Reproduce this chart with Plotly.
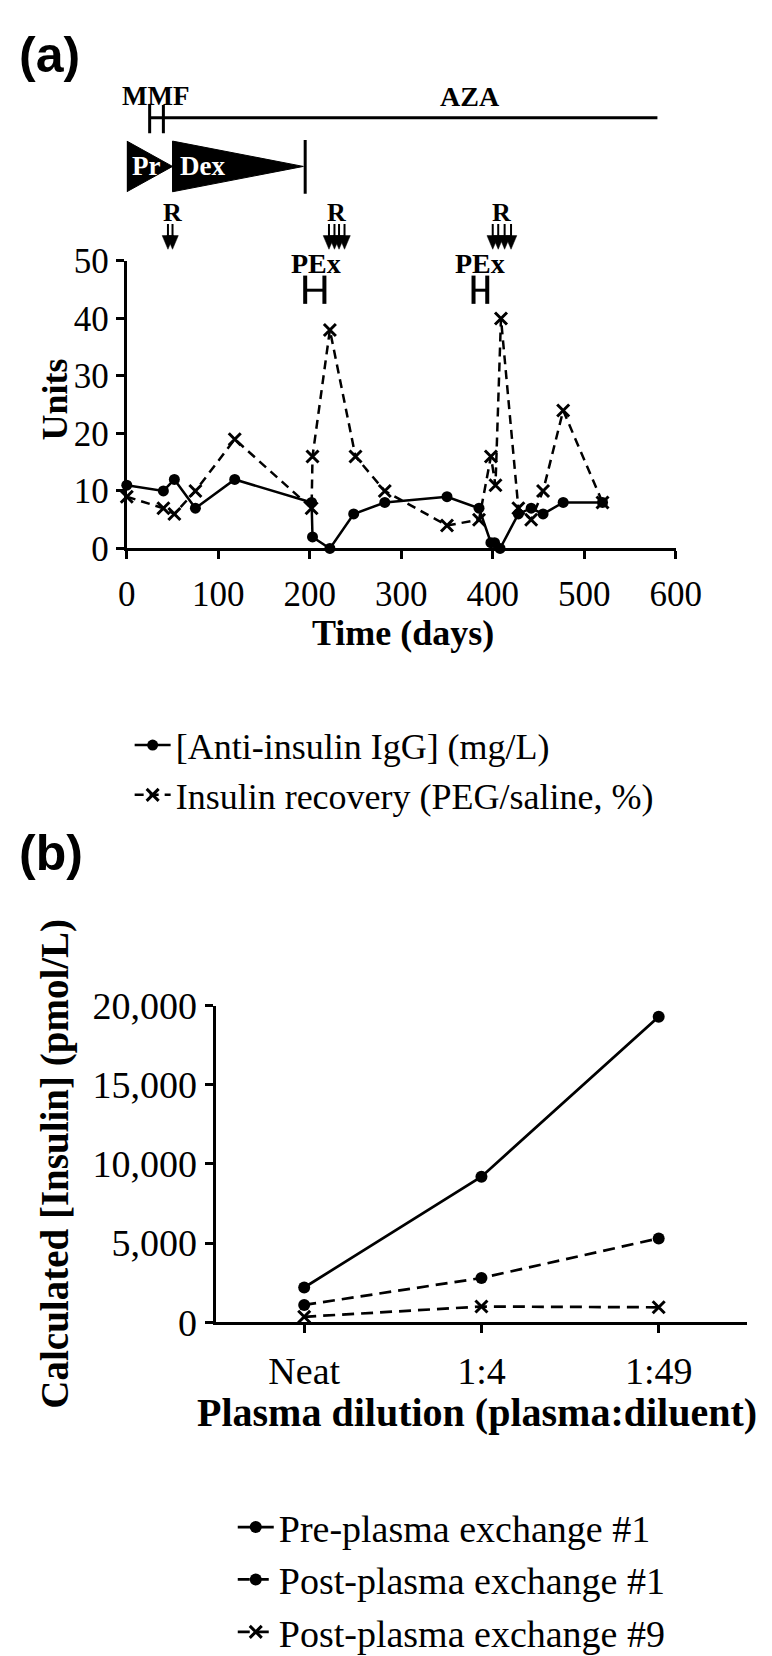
import plotly.graph_objects as go

W, H = 772, 1656

# ---------------- Data: panel (a) ----------------
days_igg = [0, 40, 52, 75, 118, 202, 203, 222, 248, 282, 350, 385, 398, 402, 408, 428, 442, 455, 477, 520]
igg = [11, 10, 12, 7, 12, 8, 2, 0, 6, 8, 9, 7, 1, 1, 0, 6, 7, 6, 8, 8]
days_rec = [0, 40, 52, 75, 118, 202, 203, 222, 250, 282, 350, 385, 398, 403, 409, 428, 442, 455, 477, 520]
recovery = [9, 7, 6, 10, 19, 7, 16, 38, 16, 10, 4, 5, 16, 11, 40, 7, 5, 10, 24, 8]
x_ticks_a = [0, 100, 200, 300, 400, 500, 600]
y_ticks_a = [0, 10, 20, 30, 40, 50]

# treatment timeline (days)
mmf_days = [25, 40]
aza_days = [40, 580]
pred_days = [0, 50]
dex_days = [50, 193]
steroid_stop_day = 195
ritux_groups = [[45, 50], [221, 227, 232, 238], [400, 406, 413, 420]]
ritux_label_days = [50, 229, 410]
pex_groups = [[195, 216], [379, 394]]
pex_label_days = [207, 386]

# ---------------- Data: panel (b) ----------------
dilutions = ["Neat", "1:4", "1:49"]
pre_pex1 = [2200, 9200, 19300]
post_pex1 = [1100, 2800, 5300]
post_pex9 = [350, 1000, 950]
y_ticks_b = [0, 5000, 10000, 15000, 20000]

SERIF = "Liberation Serif"
SANS = "Liberation Sans"


def py(p):
    return 1 - p / H


def pxp(p):
    return p / W


fig = go.Figure()

# panel (a) traces
fig.add_trace(go.Scatter(
    x=days_igg, y=igg, mode="lines+markers", name="[Anti-insulin IgG] (mg/L)",
    line=dict(color="black", width=2.5), marker=dict(symbol="circle", size=11, color="black"),
    xaxis="x", yaxis="y", cliponaxis=False, legend="legend"))
fig.add_trace(go.Scatter(
    x=days_rec, y=recovery, mode="lines+markers", name="Insulin recovery (PEG/saline, %)",
    line=dict(color="black", width=2.5, dash="9px,6px"),
    marker=dict(symbol="x-thin-open", size=12, color="black", line=dict(width=3, color="black")),
    xaxis="x", yaxis="y", cliponaxis=False, legend="legend"))

# panel (b) traces
fig.add_trace(go.Scatter(
    x=dilutions, y=pre_pex1, mode="lines+markers", name="Pre-plasma exchange #1",
    line=dict(color="black", width=2.7), marker=dict(symbol="circle", size=12, color="black"),
    xaxis="x2", yaxis="y2", cliponaxis=False, legend="legend2"))
fig.add_trace(go.Scatter(
    x=dilutions, y=post_pex1, mode="lines+markers", name="Post-plasma exchange #1",
    line=dict(color="black", width=2.7, dash="12px,7px"), marker=dict(symbol="circle", size=12, color="black"),
    xaxis="x2", yaxis="y2", cliponaxis=False, legend="legend2"))
fig.add_trace(go.Scatter(
    x=dilutions, y=post_pex9, mode="lines+markers", name="Post-plasma exchange #9",
    line=dict(color="black", width=2.7, dash="12px,7px"),
    marker=dict(symbol="x-thin-open", size=12, color="black", line=dict(width=3, color="black")),
    xaxis="x2", yaxis="y2", cliponaxis=False, legend="legend2"))

axis_common = dict(showline=True, linecolor="black", linewidth=3, ticks="outside", ticklen=8,
                   tickwidth=3, tickcolor="black", showgrid=False, zeroline=False,
                   tickfont=dict(family=SERIF, size=35, color="black"))
font_b = dict(family=SERIF, size=38, color="black")

fig.update_layout(
    width=W, height=H, margin=dict(l=0, r=0, t=0, b=0),
    paper_bgcolor="white", plot_bgcolor="white",
    xaxis=dict(domain=[pxp(115), pxp(690)], range=[0, 600], tickvals=x_ticks_a, anchor="y",
               ticklabelstandoff=5, **axis_common),
    yaxis=dict(domain=[py(533), py(238)], range=[0, 50], tickvals=y_ticks_a, anchor="x", **axis_common),
    xaxis2=dict(domain=[pxp(208), pxp(765)], type="category", range=[-0.5, 2.5], anchor="y2",
                ticklabelstandoff=5, **{**axis_common, "tickfont": font_b}),
    yaxis2=dict(domain=[py(1327), py(1002)], range=[0, 20000], tickvals=y_ticks_b, tickformat=",",
                anchor="x2", **{**axis_common, "tickfont": font_b}),
    legend=dict(x=pxp(118), y=py(704), xanchor="left", yanchor="top",
                font=dict(family=SERIF, size=36, color="black"), bgcolor="rgba(0,0,0,0)",
                itemwidth=36, tracegroupgap=0),
    legend2=dict(x=pxp(226), y=py(1505), xanchor="left", yanchor="top",
                 font=dict(family=SERIF, size=38, color="black"), bgcolor="rgba(0,0,0,0)",
                 itemwidth=36, tracegroupgap=0),
)

shapes = []
ann = []


def text(t, x, y, size, xref="x", color="black", family=SERIF, angle=0, xanchor="center"):
    ann.append(dict(text=t, xref=xref, yref="paper", x=x, y=y, showarrow=False,
                    xanchor=xanchor, yanchor="middle", textangle=angle,
                    font=dict(family=family, size=size, color=color)))


def vline(d, p0, p1, w=3):
    shapes.append(dict(type="line", xref="x", yref="paper", x0=d, x1=d, y0=py(p0), y1=py(p1),
                       line=dict(color="black", width=w)))


def hline(d0, d1, p, w=3):
    shapes.append(dict(type="line", xref="x", yref="paper", x0=d0, x1=d1, y0=py(p), y1=py(p),
                       line=dict(color="black", width=w)))


# ---- timeline above panel (a) ----
hline(aza_days[0], aza_days[1], 91)
for d in mmf_days:
    vline(d, 78, 107)
hline(mmf_days[0], mmf_days[1], 91)
text("<b>MMF</b>", (mmf_days[0] + mmf_days[1]) / 2 - 1, py(69), 27)
text("<b>AZA</b>", 375, py(69), 28)

# steroid wedges
for (d0, d1) in (pred_days, dex_days):
    path = "M {a},{t} L {a},{b} L {c},{m} Z".format(a=d0, c=d1, t=py(115), b=py(167), m=py(141))
    shapes.append(dict(type="path", xref="x", yref="paper", path=path,
                       fillcolor="black", line=dict(color="black", width=1)))
vline(steroid_stop_day, 114, 169)
text("<b>Pr</b>", (pred_days[0] + pred_days[1]) / 2 - 4, py(141), 27, color="white")
text("<b>Dex</b>", dex_days[0] + 33, py(141), 27, color="white")

# rituximab arrows
half = 6.3
for grp, lab in zip(ritux_groups, ritux_label_days):
    text("<b>R</b>", lab, py(188), 26)
    for d in grp:
        vline(d, 200, 214, w=2)
        path = "M {l},{t} L {r},{t} L {d},{b} Z".format(l=d - half, r=d + half, d=d, t=py(212), b=py(226))
        shapes.append(dict(type="path", xref="x", yref="paper", path=path,
                           fillcolor="black", line=dict(color="black", width=0.5)))

# plasma exchange brackets
for (d0, d1), lab in zip(pex_groups, pex_label_days):
    text("<b>PEx</b>", lab, py(241), 28)
    for d in (d0, d1):
        vline(d, 253, 282, w=4)
    hline(d0, d1, 268)

# panel labels and axis titles
text("<b>(a)</b>", 0, py(27), 50, xref="paper", family=SANS, xanchor="left")
text("<b>(b)</b>", 0, py(845), 50, xref="paper", family=SANS, xanchor="left")
text("<b>Units</b>", pxp(40), py(380), 36, xref="paper", angle=-90)
text("<b>Time (days)</b>", pxp(404), py(620), 36, xref="paper")
text("<b>Calculated [Insulin] (pmol/L)</b>", pxp(40), py(1164), 39, xref="paper", angle=-90)
text("<b>Plasma dilution (plasma:diluent)</b>", pxp(482), py(1420), 40, xref="paper")

fig.update_layout(shapes=shapes, annotations=ann)
fig.write_html("out.html")
